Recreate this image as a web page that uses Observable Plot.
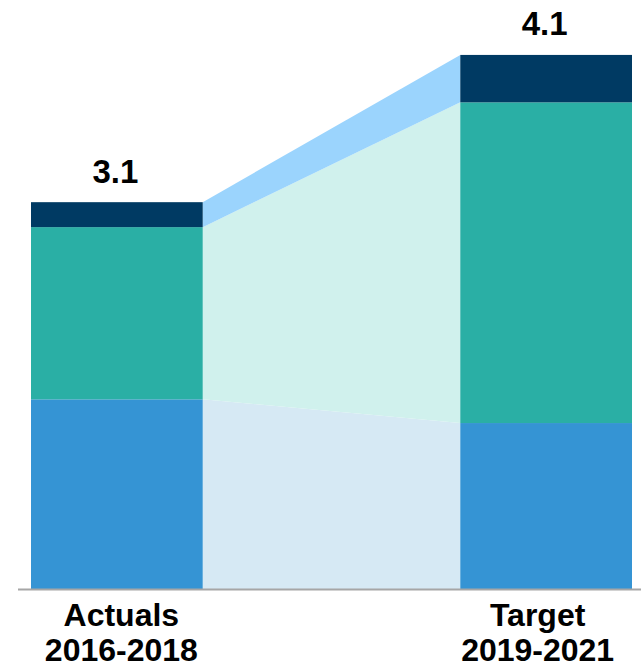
<!DOCTYPE html>
<html><head><meta charset="utf-8">
<script src="https://cdn.jsdelivr.net/npm/d3@7"></script>
<script src="https://cdn.jsdelivr.net/npm/@observablehq/plot@0.6"></script>
<style>body{margin:0;background:#fff}</style>
</head><body><div id="chart"></div>
<script>
// Data
const periods = ["Actuals\n2016-2018", "Target\n2019-2021"];
const series = ["Base", "Growth", "Top"];
const baseValues = [1.52, 1.33];
const growthValues = [1.38, 2.57];
const topValues = [0.20, 0.38];
const totalLabels = ["3.1", "4.1"];

const barColors = ["#3594d4", "#2aafa5", "#003a63"];
const bandColors = ["#d6e9f4", "#d0f1ed", "#9bd4fd"];

const valuesBySeries = [baseValues, growthValues, topValues];
const barWidth = 0.4;

// stacked rows
const rows = [];
periods.forEach((p, i) => {
  let acc = 0;
  series.forEach((s, k) => {
    const v = valuesBySeries[k][i];
    rows.push({period: p, idx: i, series: s, k, y1: acc, y2: acc + v});
    acc += v;
  });
});
const totals = periods.map((p, i) => ({
  idx: i, label: totalLabels[i], period: p,
  total: d3.sum(valuesBySeries, arr => arr[i])
}));

// connecting bands between the bars
const bands = [];
series.forEach((s, k) => {
  const a = rows.find(r => r.idx === 0 && r.k === k);
  const b = rows.find(r => r.idx === 1 && r.k === k);
  bands.push({series: s, k, x: 0 + barWidth, y1: a.y1, y2: a.y2});
  bands.push({series: s, k, x: 1, y1: b.y1, y2: b.y2});
});

const periodText = (data, dx) => Plot.text(data, {
  x: d => d.idx + barWidth / 2, y: () => 0, text: "period",
  dx, dy: 12, lineAnchor: "top", lineHeight: 1.09,
  fontSize: 32, fontWeight: "bold", fill: "#000"
});

const chart = Plot.plot({
  width: 641,
  height: 670,
  marginLeft: 18,
  marginRight: 0,
  marginTop: 15,
  marginBottom: 81,
  style: {fontFamily: "'Liberation Sans', Arial, sans-serif", background: "#fff", overflow: "visible"},
  x: {type: "linear", domain: [0, 1 + barWidth], range: [31, 632], axis: null},
  y: {domain: [0, 4.6], range: [589, 15], axis: null},
  marks: [
    Plot.areaY(bands, {x: "x", y1: "y1", y2: "y2", z: "series", fill: d => bandColors[d.k]}),
    Plot.rect(rows, {x1: d => d.idx, x2: d => d.idx + barWidth, y1: "y1", y2: "y2", fill: d => barColors[d.k]}),
    Plot.ruleY([0], {stroke: "#a6a6a6", strokeWidth: 2}),
    Plot.text(totals, {x: d => d.idx + barWidth / 2, y: "total", text: "label", dx: -2, dy: -20, lineAnchor: "bottom", fontSize: 33, fontWeight: "bold", fill: "#000"}),
    periodText(totals.slice(0, 1), 4),
    periodText(totals.slice(1), -9)
  ]
});
document.getElementById("chart").appendChild(chart);
</script>
</body></html>
